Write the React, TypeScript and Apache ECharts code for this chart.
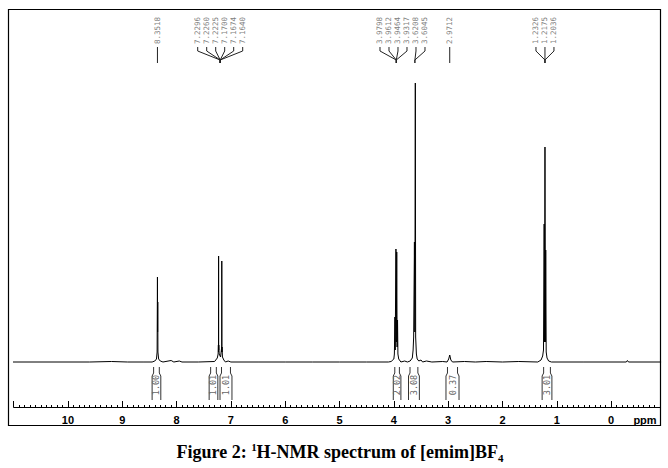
import React, { useEffect, useRef } from "react";
import * as echarts from "echarts";

// Spectrum trace: chemical shift (ppm) and intensity above baseline
const spectrumPpm = [
  11.1, 9.6, 9.2, 8.9, 8.6, 8.45, 8.4, 8.37, 8.358, 8.3518, 8.349, 8.346, 8.343, 8.33, 8.3, 8.25, 8.1, 8.05, 7.95, 7.9,
  7.6, 7.3, 7.25, 7.235, 7.2296, 7.228, 7.226, 7.2245, 7.2225, 7.215, 7.19, 7.175, 7.17, 7.168, 7.1674, 7.166, 7.164,
  7.155, 7.13, 7.1, 7.05, 7.0, 6.5, 6.0, 5.5, 5.0, 4.5, 4.1, 4.05, 4.0, 3.99, 3.9798, 3.975, 3.9612, 3.955, 3.9464,
  3.94, 3.9317, 3.925, 3.91, 3.87, 3.8, 3.75, 3.7, 3.66, 3.645, 3.635, 3.6208, 3.613, 3.6045, 3.598, 3.585, 3.57,
  3.54, 3.5, 3.47, 3.4, 3.3, 3.1, 3.02, 2.99, 2.9712, 2.95, 2.92, 2.7, 2.5, 2.3, 2.0, 1.7, 1.35, 1.29, 1.26, 1.245,
  1.2326, 1.225, 1.2175, 1.21, 1.2036, 1.195, 1.18, 1.15, 1.1, 0.5, -0.28, -0.3, -0.32, -0.92,
];
const spectrumIntensity = [
  0, 0, 0.5, 0, 0, 0, 1, 3, 10, 85, 30, 60, 10, 3, 1, 0, 1.5, 0, 1, 0,
  0, 0.5, 4, 8, 17, 10, 106, 12, 17, 8, 5, 12, 15, 10, 101, 10, 15,
  5, 2, 0, 1, 0, 0, 0, 0, 0, 0, 0, 0.5, 3, 8, 45, 12, 113, 20, 110,
  15, 42, 8, 3, 0, 1, 0, 1, 4, 12, 25, 120, 30, 279, 25, 8, 3,
  1, 2, 0, 1, 0, 0.5, 0, 3, 7, 2, 0, 0.5, 0, 0.5, 0, 0.5, 0, 2, 6, 12,
  138, 20, 215, 20, 112, 10, 4, 1, 0, 0, 0, 1.5, 0, 0,
];

// Peak-pick labels and the multiplet each one belongs to
const peakShifts = [8.3518, 7.2296, 7.226, 7.2225, 7.17, 7.1674, 7.164, 3.9798, 3.9612, 3.9464, 3.9317, 3.6208, 3.6045, 2.9712, 1.2326, 1.2175, 1.2036];
const peakMultiplet = [0, 1, 1, 1, 1, 1, 1, 2, 2, 2, 2, 3, 3, 4, 5, 5, 5];

// Integral regions (ppm) and their values
const integralStart = [8.45, 7.4, 7.2, 4.01, 3.73, 3.04, 1.27];
const integralEnd = [8.29, 7.24, 6.98, 3.87, 3.53, 2.8, 1.09];
const integralValues = ["1.00", "1.01", "1.01", "2.02", "3.08", "0.37", "3.01"];

function spreadLabels(xs: number[], gap: number): number[] {
  const clusters = xs.map((x, i) => ({ start: i, n: 1, sum: x }));
  let merged = true;
  while (merged) {
    merged = false;
    for (let i = 0; i < clusters.length - 1; i++) {
      const a = clusters[i];
      const b = clusters[i + 1];
      const aRight = a.sum / a.n + ((a.n - 1) * gap) / 2;
      const bLeft = b.sum / b.n - ((b.n - 1) * gap) / 2;
      if (bLeft - aRight < gap) {
        clusters.splice(i, 2, { start: a.start, n: a.n + b.n, sum: a.sum + b.sum });
        merged = true;
        break;
      }
    }
  }
  const out: number[] = new Array(xs.length);
  clusters.forEach((c) => {
    const center = c.sum / c.n;
    for (let k = 0; k < c.n; k++) out[c.start + k] = center + (k - (c.n - 1) / 2) * gap;
  });
  return out;
}

export default function App() {
  const ref = useRef<HTMLDivElement>(null);
  useEffect(() => {
    const chart = echarts.init(ref.current!, null, { renderer: "svg" });
    const spectrum = spectrumPpm.map((p, i) => [p, spectrumIntensity[i]]);

    const option: any = {
      animation: false,
      backgroundColor: "#fff",
      grid: { left: 13.6, right: 8, top: 10, bottom: 61, containLabel: false, outerBoundsMode: "none" },
      xAxis: {
        type: "value",
        inverse: true,
        min: -0.9,
        max: 11,
        splitNumber: 12,
        axisLine: { onZero: false, lineStyle: { color: "#000", width: 1 } },
        axisTick: { inside: true, length: 6, lineStyle: { color: "#000", width: 1 } },
        minorTick: { show: true, splitNumber: 10, length: 2, lineStyle: { color: "#000", width: 1 } },
        splitLine: { show: false },
        minorSplitLine: { show: false },
        axisLabel: {
          margin: 7,
          fontSize: 11,
          fontWeight: "bold",
          fontFamily: "Liberation Sans, Arial, sans-serif",
          color: "#000",
          formatter: (v: number) => (Math.abs(v - Math.round(v)) < 1e-6 && v < 10.5 ? String(Math.round(v)) : ""),
        },
      },
      yAxis: { type: "value", show: false, min: -45, max: 352, splitLine: { show: false } },
      series: [
        {
          type: "line",
          data: spectrum,
          showSymbol: false,
          symbol: "none",
          clip: false,
          lineStyle: { color: "#000", width: 1 },
          z: 3,
        },
        {
          type: "custom",
          coordinateSystem: "cartesian2d",
          clip: false,
          data: peakShifts.map((p) => [p, 0]),
          renderItem: (params: any, api: any) => {
            const idx = params.dataIndex;
            const xs = peakShifts.map((p) => api.coord([p, 0])[0]);
            const lx = spreadLabels(xs, 9)[idx];
            const g = peakMultiplet[idx];
            const members = peakShifts.filter((_, i) => peakMultiplet[i] === g);
            const mean = members.reduce((s, v) => s + v, 0) / members.length;
            const gx = api.coord([mean, 0])[0];
            return {
              type: "group",
              children: [
                {
                  type: "text",
                  x: lx,
                  y: 44,
                  rotation: Math.PI / 2,
                  style: {
                    text: peakShifts[idx].toFixed(4),
                    fill: "#808080",
                    fontSize: 7.5,
                    fontFamily: "DejaVu Sans Mono, monospace",
                    align: "left",
                    verticalAlign: "middle",
                  },
                },
                {
                  type: "polyline",
                  shape: { points: [[lx, 47], [lx, 51], [gx, 60], [gx, 63]] },
                  style: { stroke: "#222", lineWidth: 1, fill: null },
                },
              ],
            };
          },
          z: 4,
        },
        {
          type: "custom",
          coordinateSystem: "cartesian2d",
          clip: false,
          data: integralStart.map((s, i) => [s, integralEnd[i]]),
          renderItem: (params: any, api: any) => {
            const i = params.dataIndex;
            const p1 = api.coord([api.value(0), 0]);
            const p2 = api.coord([api.value(1), 0]);
            const yb = p1[1];
            const x1 = p1[0];
            const x2 = p2[0];
            const top = yb + 5;
            const bot = yb + 38;
            return {
              type: "group",
              children: [
                {
                  type: "polyline",
                  shape: { points: [[x1 + 1.5, top], [x1 + 1.5, top + 6], [x1, top + 9], [x1, bot]] },
                  style: { stroke: "#333", lineWidth: 1, fill: null },
                },
                {
                  type: "polyline",
                  shape: { points: [[x2 - 1.5, top], [x2 - 1.5, top + 6], [x2, top + 9], [x2, bot]] },
                  style: { stroke: "#333", lineWidth: 1, fill: null },
                },
                {
                  type: "text",
                  x: (x1 + x2) / 2,
                  y: yb + 23,
                  rotation: Math.PI / 2,
                  style: {
                    text: integralValues[i],
                    fill: "#666",
                    fontSize: 8.5,
                    fontFamily: "DejaVu Sans Mono, monospace",
                    align: "center",
                    verticalAlign: "middle",
                  },
                },
              ],
            };
          },
          z: 4,
        },
      ],
      graphic: [
        {
          type: "rect",
          shape: { x: 8.5, y: 9.5, width: 652, height: 416 },
          style: { fill: "none", stroke: "#000", lineWidth: 1.2 },
          z: 10,
        },
        {
          type: "text",
          x: 645,
          y: 420,
          style: {
            text: "ppm",
            fill: "#000",
            fontSize: 11,
            fontWeight: "bold",
            fontFamily: "Liberation Sans, Arial, sans-serif",
            align: "center",
            verticalAlign: "middle",
          },
        },
        {
          type: "text",
          x: 340,
          y: 452,
          style: {
            text: "{a|Figure 2: }{s|1}{a|H-NMR spectrum of [emim]BF}{b|4}",
            align: "center",
            verticalAlign: "middle",
            rich: {
              a: { fontSize: 18, fontWeight: "bold", fontFamily: "Liberation Serif, Times New Roman, serif", fill: "#000", lineHeight: 22 },
              s: { fontSize: 11, fontWeight: "bold", fontFamily: "Liberation Serif, Times New Roman, serif", fill: "#000", lineHeight: 12, verticalAlign: "top" },
              b: { fontSize: 11, fontWeight: "bold", fontFamily: "Liberation Serif, Times New Roman, serif", fill: "#000", lineHeight: 12, verticalAlign: "bottom" },
            },
          },
        },
      ],
    };
    chart.setOption(option);
    return () => chart.dispose();
  }, []);
  return (
    <div
      ref={ref}
      style={{ position: "fixed", left: 0, top: 0, width: 668, height: 468, background: "#fff" }}
    />
  );
}
